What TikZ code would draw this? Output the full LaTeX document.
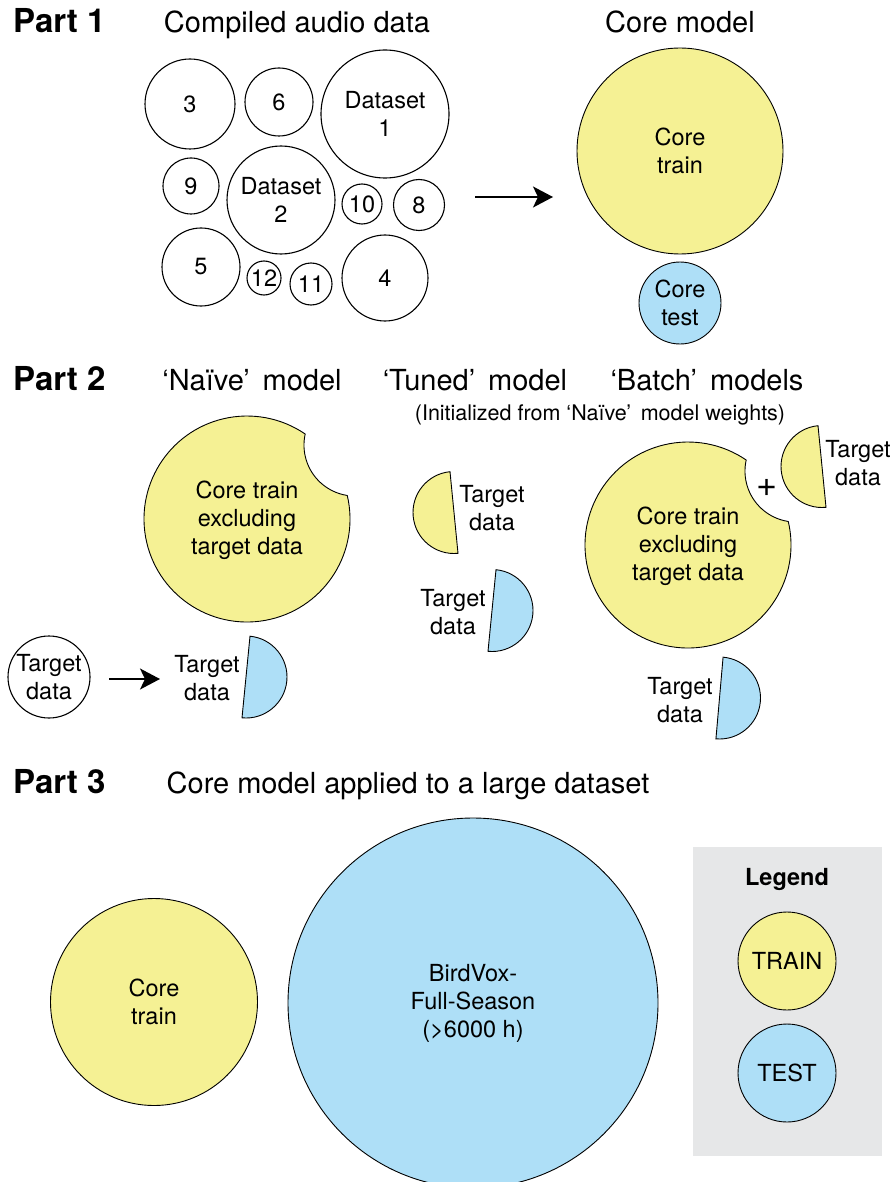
\documentclass[tikz,border=0pt]{standalone}
\usepackage{fontspec}
\setmainfont{TeX Gyre Heros}
\usetikzlibrary{arrows.meta}

\definecolor{trainyellow}{RGB}{245,241,148}
\definecolor{testblue}{RGB}{174,223,247}
\definecolor{legendgray}{RGB}{230,231,232}

\newcommand{\lblfont}{\fontsize{23.5}{28}\selectfont}
\newcommand{\headfont}{\fontsize{29}{34}\selectfont}
\newcommand{\subheadfont}{\fontsize{21.5}{25}\selectfont}
\newcommand{\partfont}{\fontsize{33}{38}\selectfont\bfseries}

\tikzset{
  datacirc/.style={circle, draw, line width=1.1pt, fill=white, inner sep=0pt, align=center, font=\lblfont},
  traincirc/.style={circle, draw, line width=0.9pt, fill=trainyellow, inner sep=0pt, align=center, font=\lblfont},
  testcirc/.style={circle, draw, line width=0.9pt, fill=testblue, inner sep=0pt, align=center, font=\lblfont},
  piece/.style={draw, line width=0.9pt},
  lbl/.style={align=center, font=\lblfont, inner sep=0pt},
  heading/.style={anchor=base, font=\headfont, inner sep=0pt},
  partlabel/.style={anchor=base west, font=\partfont, inner sep=0pt},
  bigarrow/.style={line width=1.6pt, -{Stealth[length=20pt,width=21pt,inset=5pt]}}
}

\begin{document}
\begin{tikzpicture}[x=1pt,y=-1pt]
  \useasboundingbox (0,0) rectangle (891,1182);
  \clip (0,0) rectangle (891,1182);

  % Part 1
  \node[partlabel] (part1) at (13,33) {Part 1};
  \node[heading] (compiledtitle) at (297,33) {Compiled audio data};
  \node[heading] (coretitle) at (680,33) {Core model};

  % compiled audio data
  \node[datacirc, minimum size=90pt] (ds3) at (190,104) {3};
  \node[datacirc, minimum size=68pt] (ds6) at (279,102) {6};
  \node[datacirc, minimum size=128pt] (ds1) at (385,114) {Dataset\\1};
  \node[datacirc, minimum size=56pt] (ds9) at (191,186) {9};
  \node[datacirc, minimum size=108pt] (ds2) at (281,200) {Dataset\\2};
  \node[datacirc, minimum size=40pt] (ds10) at (362,204) {10};
  \node[datacirc, minimum size=51pt] (ds8) at (419,205) {8};
  \node[datacirc, minimum size=78pt] (ds5) at (201,267) {5};
  \node[datacirc, minimum size=34pt] (ds12) at (264,278) {12};
  \node[datacirc, minimum size=42pt] (ds11) at (311,284) {11};
  \node[datacirc, minimum size=86pt] (ds4) at (385,278) {4};

  \coordinate (arrowfrom) at (475,197);
  \coordinate (arrowto) at (553,197);
  \draw[bigarrow] (arrowfrom) -- (arrowto);

  % core model
  \node[traincirc, minimum size=206pt] (coretrain) at (680,151) {Core\\train};
  \node[testcirc, minimum size=82pt] (coretest) at (680,303) {Core\\test};

  % Part 2
  \node[partlabel] (part2) at (13,390) {Part 2};
  \node[heading] (naivetitle) at (252,390) {‘Naïve’\, model};
  \node[heading] (tunedtitle) at (475,390) {‘Tuned’\, model};
  \node[heading] (batchtitle) at (707,390) {‘Batch’\, models};
  \node[anchor=base, font=\subheadfont, inner sep=0pt] (inittitle) at (600,420) {(Initialized from ‘Naïve’\, model weights)};

  % naive model
  \draw[piece, fill=trainyellow] (247,519) ++(-13.2:103) arc (-13.2:304.4:103) arc (192.5:98.7:51) -- cycle;
  \node[lbl] (naivetext) at (247,520) {Core train\\excluding\\target data};
  \node[datacirc, minimum size=82pt] (targetcirc) at (49,677) {Target\\data};
  \coordinate (arrow2from) at (109,679);
  \coordinate (arrow2to) at (160,679);
  \draw[bigarrow] (arrow2from) -- (arrow2to);
  \draw[piece, fill=testblue] (246,677) ++(-84.4:41) arc (-84.4:95.6:41) -- cycle;
  \node[lbl] (naivetestlbl) at (207,678) {Target\\data};

  % tuned model
  \draw[piece, fill=trainyellow] (454,512.5) ++(84.4:41) arc (84.4:264.4:41) -- cycle;
  \node[lbl] (tunedtrainlbl) at (492,508) {Target\\data};
  \draw[piece, fill=testblue] (492,610.5) ++(-84.4:41) arc (-84.4:95.6:41) -- cycle;
  \node[lbl] (tunedtestlbl) at (453,612) {Target\\data};

  % batch models
  \draw[piece, fill=trainyellow] (688,545) ++(-13.2:103) arc (-13.2:304.4:103) arc (192.5:98.7:51) -- cycle;
  \node[lbl] (batchtext) at (688,546) {Core train\\excluding\\target data};
  \node[font=\fontsize{36}{36}\selectfont, inner sep=0pt] (plus) at (767,488) {+};
  \draw[piece, fill=trainyellow] (822,466.5) ++(84.4:41) arc (84.4:264.4:41) -- cycle;
  \node[lbl] (batchtrainlbl) at (858,463) {Target\\data};
  \draw[piece, fill=testblue] (719.5,698) ++(-85:41) arc (-85:95:41) -- cycle;
  \node[lbl] (batchtestlbl) at (680,700) {Target\\data};

  % Part 3
  \node[partlabel] (part3) at (13,793) {Part 3};
  \node[heading] (applytitle) at (408,793) {Core model applied to a large dataset};
  \node[traincirc, minimum size=207pt] (bigtrain) at (154,1002) {Core\\train};
  \node[testcirc, minimum size=370pt] (birdvox) at (473,1003) {BirdVox-\\Full-Season\\(>6000 h)};

  % legend
  \node[fill=legendgray, minimum width=189pt, minimum height=309pt, inner sep=0pt] (legendbox) at (787.5,1001.5) {};
  \node[anchor=base, font=\lblfont\bfseries, inner sep=0pt] (legendtitle) at (787,885) {Legend};
  \node[traincirc, minimum size=98pt] (legtrain) at (787,961) {TRAIN};
  \node[testcirc, minimum size=98pt] (legtest) at (787,1073) {TEST};
\end{tikzpicture}
\end{document}
